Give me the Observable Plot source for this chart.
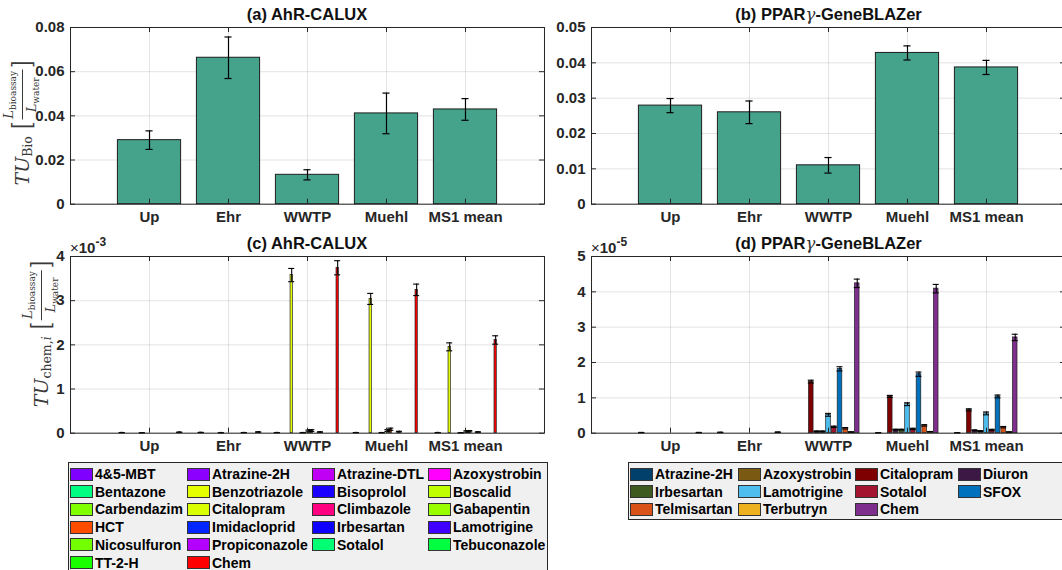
<!DOCTYPE html>
<html><head><meta charset="utf-8">
<script src="https://cdn.jsdelivr.net/npm/d3@7"></script>
<script src="https://cdn.jsdelivr.net/npm/@observablehq/plot@0.6"></script>
<style>
body{margin:0;background:#fff;}
#fig{position:relative;width:1062px;height:570px;overflow:hidden;background:#fff;font-family:'Liberation Sans',Arial,sans-serif;}
.ylab{position:absolute;white-space:nowrap;transform:translate(-50%,-50%) rotate(-90deg);font-family:'DejaVu Serif',serif;color:#3a3a3a;display:flex;align-items:center;}
.ylab .tu{font-style:italic;font-size:19px;}
.ylab .sb{font-size:12.5px;position:relative;top:5px;margin-right:7px;}
.ylab .br{font-size:19px;transform:scaleY(1.35);display:inline-block;}
.ylab .frac{display:inline-flex;flex-direction:column;align-items:center;margin:0 2px;}
.ylab .frac>span{padding:0 1px;line-height:13px;}
.ylab .num{border-bottom:1px solid #3a3a3a;padding-bottom:2px !important;}
.ylab .den{padding-top:1px !important;}
.ylab i{font-size:13px;}
.ylab .fs{font-size:9px;vertical-align:-3px;}
.legend{position:absolute;background:#f0f0f0;border:1px solid #262626;box-sizing:border-box;}
.legend .sw{position:absolute;width:23px;height:13px;box-sizing:border-box;border:1px solid #333;}
.legend .lt{position:absolute;font:bold 14px 'Liberation Sans',Arial,sans-serif;color:#000;line-height:16px;white-space:nowrap;}
</style></head>
<body><div id="fig"></div>
<script>
// ---------- data ----------
const sites = ["Up", "Ehr", "WWTP", "Muehl", "MS1 mean"];
const siteTicks = [1, 2, 3, 4, 5];

// (a) AhR-CALUX, TU_Bio
const ahrBio    = [0.0290, 0.0663, 0.0133, 0.0411, 0.0429];
const ahrBioErr = [0.0042, 0.0094, 0.0023, 0.0092, 0.0049];
// (b) PPARgamma-GeneBLAZer, TU_Bio
const pparBio    = [0.0279, 0.0260, 0.0110, 0.0428, 0.0387];
const pparBioErr = [0.0020, 0.0032, 0.0022, 0.0020, 0.0020];

const ticksA = [0, 0.02, 0.04, 0.06, 0.08];
const ticksB = [0, 0.01, 0.02, 0.03, 0.04, 0.05];
const ticksC = [0, 1, 2, 3, 4];      // x 10^-3
const ticksD = [0, 1, 2, 3, 4, 5];   // x 10^-5

// (c) AhR-CALUX chemicals (values in units of 1e-3)
const ahrChems = ["4&5-MBT","Atrazine-2H","Atrazine-DTL","Azoxystrobin","Bentazone","Benzotriazole","Bisoprolol","Boscalid","Carbendazim","Citalopram","Climbazole","Gabapentin","HCT","Imidacloprid","Irbesartan","Lamotrigine","Nicosulfuron","Propiconazole","Sotalol","Tebuconazole","TT-2-H","Chem"];
const ahrColors = ["#7f00ff","#8c00ff","#c000f5","#ff00ff","#00ff80","#e5ff00","#1a00ff","#bfff00","#80ff00","#d9ff00","#ff0080","#99ff00","#ff4d00","#0026ff","#0d00ff","#4000ff","#73ff00","#b300ff","#00ff73","#00ff40","#1aff00","#ff0000"];
const ahrUp       = [0,0.012,0,0,0,0,0,0,0.008,0,0,0,0,0,0,0,0,0,0,0,0,0.020];
const ahrUpErr    = [0,0.003,0,0,0,0,0,0,0.002,0,0,0,0,0,0,0,0,0,0,0,0,0.005];
const ahrEhr      = [0,0.015,0,0,0,0,0,0,0.010,0,0,0,0,0,0,0,0.012,0,0,0,0,0.025];
const ahrEhrErr   = [0,0.003,0,0,0,0,0,0,0.002,0,0,0,0,0,0,0,0.003,0,0,0,0,0.005];
const ahrWWTP     = [0.012,0,0,0,0,3.58,0,0,0,0.010,0,0.050,0.060,0,0,0.025,0,0,0,0,0,3.745];
const ahrWWTPErr  = [0.003,0,0,0,0,0.15,0,0,0,0.003,0,0.020,0.020,0,0,0.006,0,0,0,0,0,0.16];
const ahrMuehl    = [0.012,0,0,0,0,3.04,0,0,0,0.010,0,0.060,0.090,0,0,0.035,0,0,0,0,0,3.245];
const ahrMuehlErr = [0.003,0,0,0,0,0.125,0,0,0,0.003,0,0.020,0.025,0,0,0.008,0,0,0,0,0,0.13];
const ahrMS1      = [0,0.012,0,0,0,1.955,0,0,0,0.008,0,0.040,0.045,0,0,0.025,0,0,0,0,0,2.11];
const ahrMS1Err   = [0,0.003,0,0,0,0.09,0,0,0,0.002,0,0.015,0.015,0,0,0.006,0,0,0,0,0,0.095];

// (d) PPARgamma chemicals (values in units of 1e-5)
const pparChems = ["Atrazine-2H","Azoxystrobin","Citalopram","Diuron","Irbesartan","Lamotrigine","Sotalol","SFOX","Telmisartan","Terbutryn","Chem"];
const pparColors = ["#00406b","#7a5a12","#7f0000","#3c1845","#3e5a1e","#4dbeee","#a2142f","#0072bd","#d95319","#edb120","#7e2f8e"];
const pparUp       = [0.015,0,0,0,0,0,0,0,0,0,0.015];
const pparUpErr    = [0.003,0,0,0,0,0,0,0,0,0,0.003];
const pparEhr      = [0.020,0,0,0,0,0,0,0,0,0,0.025];
const pparEhrErr   = [0.004,0,0,0,0,0,0,0,0,0,0.004];
const pparWWTP     = [0,0,1.46,0.05,0.05,0.52,0.18,1.82,0.14,0.03,4.24];
const pparWWTPErr  = [0,0,0.04,0.01,0.01,0.04,0.02,0.06,0.02,0.005,0.12];
const pparMuehl    = [0.010,0,1.04,0.10,0.10,0.82,0.12,1.67,0.22,0.04,4.09];
const pparMuehlErr = [0.003,0,0.03,0.01,0.01,0.04,0.02,0.06,0.02,0.005,0.12];
const pparMS1      = [0.010,0,0.66,0.08,0.06,0.56,0.09,1.04,0.17,0.03,2.71];
const pparMS1Err   = [0.003,0,0.03,0.01,0.01,0.04,0.02,0.04,0.02,0.005,0.09];

// ---------- layout ----------
const fig = document.getElementById("fig");
const PW = 474, PH = 176.7;
const M = {l: 52, r: 8, t: 6, b: 30};
const AX = "#262626";

function makePanel({x0, y0, yDomain, yTicks, yFmt, marks}) {
  const chart = Plot.plot({
    width: PW + M.l + M.r, height: PH + M.t + M.b,
    marginLeft: M.l, marginRight: M.r, marginTop: M.t, marginBottom: M.b,
    x: {domain: [0, 6]},
    y: {domain: yDomain},
    style: "font: bold 15px 'Liberation Sans', Arial, sans-serif; color: #262626; background: transparent; overflow: visible;",
    marks: [
      Plot.gridX(siteTicks, {stroke: AX, strokeOpacity: 0.13}),
      Plot.gridY(yTicks, {stroke: AX, strokeOpacity: 0.13}),
      ...marks,
      Plot.frame({stroke: AX, strokeWidth: 1}),
      Plot.tickX(siteTicks, {x: d => d, insetTop: PH - 5, stroke: AX}),
      Plot.tickX(siteTicks, {x: d => d, insetBottom: PH - 5, stroke: AX}),
      Plot.tickY(yTicks, {y: d => d, insetRight: PW - 5, stroke: AX}),
      Plot.tickY(yTicks, {y: d => d, insetLeft: PW - 5, stroke: AX}),
      Plot.axisX(siteTicks, {anchor: "bottom", tickSize: 0, tickPadding: 7, tickFormat: i => sites[i - 1], label: null}),
      Plot.axisY(yTicks, {anchor: "left", tickSize: 0, tickPadding: 6, tickFormat: yFmt, label: null})
    ]
  });
  chart.style.position = "absolute";
  chart.style.left = (x0 - M.l) + "px";
  chart.style.top = (y0 - M.t) + "px";
  chart.style.maxWidth = "none";
  fig.appendChild(chart);
}

function simpleBars(vals, errs) {
  const data = vals.map((v, i) => ({x: i + 1, v, e: errs[i]}));
  const cap = 0.045;
  return [
    Plot.rect(data, {x1: d => d.x - 0.4, x2: d => d.x + 0.4, y1: d => 0, y2: d => d.v, fill: "#45a28b", stroke: "#1e1e1e", strokeWidth: 1}),
    Plot.ruleX(data, {x: d => d.x, y1: d => d.v - d.e, y2: d => d.v + d.e, stroke: "#000", strokeWidth: 1.2}),
    Plot.ruleY(data, {y: d => d.v + d.e, x1: d => d.x - cap, x2: d => d.x + cap, stroke: "#000", strokeWidth: 1.2}),
    Plot.ruleY(data, {y: d => d.v - d.e, x1: d => d.x - cap, x2: d => d.x + cap, stroke: "#000", strokeWidth: 1.2})
  ];
}

function groupedBars(colors, siteVals, siteErrs) {
  const n = colors.length;
  const gw = Math.min(0.8, n / (n + 1.5));
  const slot = gw / n;
  const data = [];
  siteVals.forEach((vals, s) => vals.forEach((v, k) => {
    if (v > 0) data.push({xc: s + 1 - gw / 2 + (k + 0.5) * slot, v, e: siteErrs[s][k], c: colors[k]});
  }));
  const hw = slot * 0.4, cap = 0.038;
  return [
    Plot.rect(data, {x1: d => d.xc - hw, x2: d => d.xc + hw, y1: d => 0, y2: d => d.v, fill: d => d.c, stroke: "#222", strokeWidth: 0.7}),
    Plot.ruleX(data, {x: d => d.xc, y1: d => d.v - d.e, y2: d => d.v + d.e, stroke: "#000", strokeWidth: 1.1}),
    Plot.ruleY(data, {y: d => d.v + d.e, x1: d => d.xc - cap, x2: d => d.xc + cap, stroke: "#000", strokeWidth: 1.1}),
    Plot.ruleY(data, {y: d => d.v - d.e, x1: d => d.xc - cap, x2: d => d.xc + cap, stroke: "#000", strokeWidth: 1.1})
  ];
}

const fmt2 = d => d === 0 ? "0" : d.toFixed(2);
const fmt0 = d => String(d);

makePanel({x0: 70, y0: 27.3, yDomain: [0, 0.08], yTicks: ticksA, yFmt: fmt2, marks: simpleBars(ahrBio, ahrBioErr)});
makePanel({x0: 591, y0: 27.3, yDomain: [0, 0.05], yTicks: ticksB, yFmt: fmt2, marks: simpleBars(pparBio, pparBioErr)});
makePanel({x0: 70, y0: 255.7, yDomain: [0, 4], yTicks: ticksC, yFmt: fmt0,
  marks: groupedBars(ahrColors, [ahrUp, ahrEhr, ahrWWTP, ahrMuehl, ahrMS1], [ahrUpErr, ahrEhrErr, ahrWWTPErr, ahrMuehlErr, ahrMS1Err])});
makePanel({x0: 591, y0: 255.7, yDomain: [0, 5], yTicks: ticksD, yFmt: fmt0,
  marks: groupedBars(pparColors, [pparUp, pparEhr, pparWWTP, pparMuehl, pparMS1], [pparUpErr, pparEhrErr, pparWWTPErr, pparMuehlErr, pparMS1Err])});

// ---------- titles & exponent labels ----------
const ov = document.createElementNS("http://www.w3.org/2000/svg", "svg");
ov.setAttribute("width", 1062); ov.setAttribute("height", 570);
ov.style.cssText = "position:absolute;left:0;top:0;pointer-events:none;font-family:'Liberation Sans',Arial,sans-serif;";
const gam = '<tspan font-family="DejaVu Serif" font-style="italic" font-weight="normal" fill="#333">γ</tspan>';
ov.innerHTML = `
<g font-weight="bold" font-size="16.5" fill="#111" text-anchor="middle">
<text x="307" y="20">(a) AhR-CALUX</text>
<text x="828.5" y="20">(b) PPAR${gam}-GeneBLAZer</text>
<text x="307" y="249">(c) AhR-CALUX</text>
<text x="828.5" y="249">(d) PPAR${gam}-GeneBLAZer</text>
</g>
<g fill="#262626" font-size="15">
<text x="70" y="253"><tspan font-weight="normal">×</tspan><tspan font-weight="bold">10</tspan><tspan font-weight="bold" font-size="12" dy="-7">-3</tspan></text>
<text x="591" y="253"><tspan font-weight="normal">×</tspan><tspan font-weight="bold">10</tspan><tspan font-weight="bold" font-size="12" dy="-7">-5</tspan></text>
</g>`;
fig.appendChild(ov);

// ---------- y labels ----------
function ylab(cx, cy, sub) {
  const d = document.createElement("div");
  d.className = "ylab";
  d.style.left = cx + "px"; d.style.top = cy + "px";
  d.innerHTML = `<span class="tu">TU</span><span class="sb">${sub}</span><span class="br">[</span><span class="frac"><span class="num"><i>L</i><span class="fs">bioassay</span></span><span class="den"><i>L</i><span class="fs">water</span></span></span><span class="br">]</span>`;
  fig.appendChild(d);
}
ylab(22, 123, "Bio");
ylab(41, 334, "chem,<i style='font-size:12.5px'>i</i>");

// ---------- legends ----------
function legend(left, top, width, height, names, colors, colX, rowH) {
  const box = document.createElement("div");
  box.className = "legend";
  box.style.cssText = `left:${left}px;top:${top}px;width:${width}px;height:${height}px;`;
  names.forEach((nm, i) => {
    const r = Math.floor(i / 4), c = i % 4;
    const cy = 11 + r * rowH;
    const sw = document.createElement("div");
    sw.className = "sw";
    sw.style.cssText = `left:${colX[c]}px;top:${cy - 6.5}px;background:${colors[i]};`;
    const t = document.createElement("div");
    t.className = "lt";
    t.style.cssText = `left:${colX[c] + 25}px;top:${cy - 8}px;`;
    t.textContent = nm;
    box.appendChild(sw); box.appendChild(t);
  });
  fig.appendChild(box);
}
legend(68, 462, 480, 112, ahrChems, ahrColors, [1, 118, 243, 359], 17.7);
legend(628, 462, 450, 58, pparChems, pparColors, [1, 109, 226, 329], 17.5);
</script>
</body></html>
